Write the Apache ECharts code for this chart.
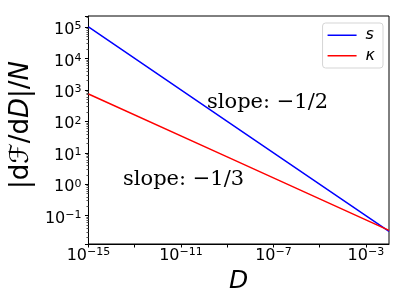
<!DOCTYPE html>
<html>
<head>
<meta charset="utf-8">
<script src="https://cdn.jsdelivr.net/npm/echarts@6/dist/echarts.min.js"></script>
<style>html,body{margin:0;padding:0;background:#fff}#c{width:399px;height:299px}</style>
</head>
<body>
<div id="c"></div>
<script>
// Data (log-log straight lines)
var D = [1e-15, 1e-9, 1e-2];
var sValues = [1e5, 1e2, 0.0316];
var kappaValues = [740, 7.4, 0.034];
var seriesNames = ['s', 'κ'];
var annotations = ['slope: −1/2', 'slope: −1/3'];

var chart = echarts.init(document.getElementById('c'));
function expLabel(v) {
  var e = Math.round(Math.log10(v));
  var s = (e < 0 ? '−' + (-e) : '' + e);
  return '{b|10}{s|' + s + '}';
}
function xFmt(v) {
  var e = Math.round(Math.log10(v));
  if ((e + 15) % 4 !== 0) return '';
  return expLabel(v);
}
var rich = {
  b: {fontFamily: 'DejaVu Sans', fontSize: 16, lineHeight: 18, color: '#000'},
  s: {fontFamily: 'DejaVu Sans', fontSize: 11, color: '#000', verticalAlign: 'top'}
};
chart.setOption({
  animation: false,
  grid: {left: 82, right: 10, top: 16, bottom: 55, show: true, borderColor: '#000', borderWidth: 1},
  legend: {
    right: 16, top: 23, orient: 'vertical', icon: 'rect', itemWidth: 29, itemHeight: 1.5, itemGap: 4,
    padding: [4, 8, 4, 5], borderColor: '#d5d5d5', borderWidth: 1, borderRadius: 3,
    textStyle: {fontFamily: 'DejaVu Sans', fontSize: 16, lineHeight: 16.5, fontStyle: 'italic', color: '#000', padding: [0, 0, 0, 4]},
    data: seriesNames
  },
  xAxis: {
    type: 'log', min: D[0], max: D[D.length - 1], interval: 2,
    axisLine: {show: true, lineStyle: {color: '#000'}},
    axisTick: {show: true, length: 3.5, lineStyle: {color: '#000'}},
    splitLine: {show: false},
    axisLabel: {showMaxLabel: false, margin: 3, formatter: xFmt, rich: rich},
    name: 'D', nameLocation: 'middle', nameGap: 22,
    nameTextStyle: {fontFamily: 'DejaVu Sans', fontSize: 25, fontStyle: 'italic', color: '#000', verticalAlign: 'top'}
  },
  yAxis: {
    type: 'log', min: 0.0126, max: 223000,
    axisLine: {show: true, lineStyle: {color: '#000'}},
    axisTick: {show: true, length: 3.5, lineStyle: {color: '#000'}},
    minorTick: {show: true, splitNumber: 9, length: 2, lineStyle: {color: '#555'}},
    splitLine: {show: false},
    axisLabel: {showMinLabel: false, showMaxLabel: false, margin: 7, padding: [6, 0, 0, 0], formatter: expLabel, rich: rich},
    name: '|d{i|ℱ}/d{i|D}|/{i|N}', nameLocation: 'middle', nameRotate: 90, nameGap: 49,
    nameTextStyle: {
      fontFamily: 'DejaVu Sans', fontSize: 26, color: '#000', padding: [0, 0, 0, 10],
      rich: {
        i: {fontFamily: 'DejaVu Sans', fontSize: 26, fontStyle: 'italic'}
      }
    }
  },
  series: [
    {name: seriesNames[0], type: 'line', data: D.map(function (d, i) { return [d, sValues[i]]; }),
     symbol: 'none', lineStyle: {color: '#0000ff', width: 1.5}, itemStyle: {color: '#0000ff'}},
    {name: seriesNames[1], type: 'line', data: D.map(function (d, i) { return [d, kappaValues[i]]; }),
     symbol: 'none', lineStyle: {color: '#ff0000', width: 1.5}, itemStyle: {color: '#ff0000'}}
  ],
  graphic: [
    {type: 'text', left: 207, top: 92, style: {text: annotations[0], font: '21px "DejaVu Serif"', fill: '#000'}},
    {type: 'text', left: 123, top: 169, style: {text: annotations[1], font: '21px "DejaVu Serif"', fill: '#000'}}
  ]
});
</script>
</body>
</html>
